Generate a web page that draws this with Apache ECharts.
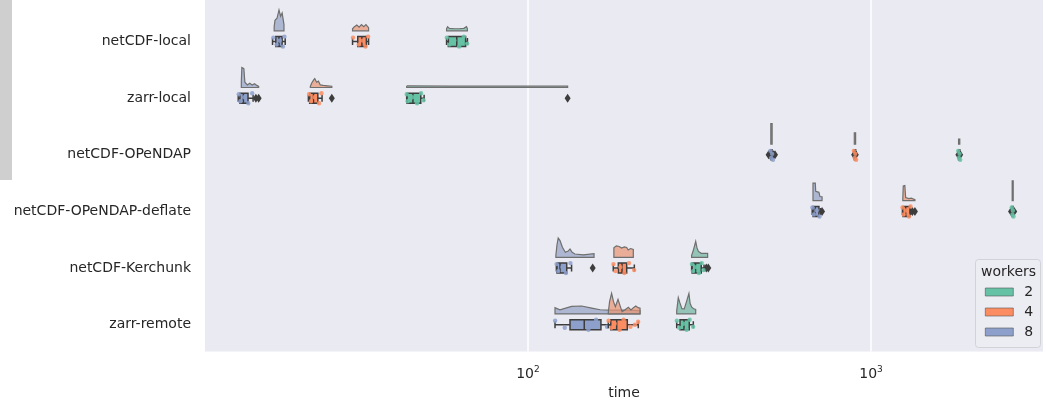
<!DOCTYPE html>
<html>
<head>
<meta charset="utf-8">
<script src="https://cdn.jsdelivr.net/npm/echarts@6/dist/echarts.min.js"></script>
<style>
html, body { margin: 0; padding: 0; background: #fff; }
#chart { width: 1046px; height: 405px; }
</style>
</head>
<body>
<div id="chart"></div>
<script>
// 数据
var categories = ['netCDF-local', 'zarr-local', 'netCDF-OPeNDAP', 'netCDF-OPeNDAP-deflate', 'netCDF-Kerchunk', 'zarr-remote'];
var workers = ['2', '4', '8'];
var xTicks = [100, 1000];

// 箱线: [下须, q1, 中位数, q3, 上须]
var box2 = [[57.9, 58.6, 62, 65.8, 66.6], [44.3, 44.4, 46.2, 48.7, 49.8], [1795, 1800, 1808, 1815, 1822], [2570, 2578, 2588, 2596, 2605], [300, 301, 308, 320, 326], [271.4, 277.5, 285, 295.3, 303.4]];
var box4 = [[30.8, 31.9, 32.8, 33.8, 34.3], [22.9, 23.1, 23.7, 24.4, 25.1], [890, 894, 898, 902, 906], [1235, 1240, 1262, 1299, 1305], [177.3, 183.4, 188, 194, 204.2], [171.5, 174.3, 181.4, 194.8, 209.7]];
var box8 = [[18.0, 18.4, 18.8, 19.2, 19.6], [14.3, 14.46, 14.8, 15.27, 15.8], [510, 511, 513, 514, 516], [674, 678, 688, 705, 712], [121, 121.5, 124, 129.7, 134], [119.9, 132.6, 145.9, 163.2, 185]];

// 异常值
var out2 = [[], [130.5], [1798, 1820], [2560, 2615], [331, 335.5], []];
var out4 = [[], [26.8], [893, 903], [1320, 1343], [], []];
var out8 = [[], [16.1, 16.4], [503, 507, 520, 525], [720], [154.4], []];

// 雨点（散点）
var rain2 = [[58, 59, 61, 63, 65, 66.5], [44.3, 44.6, 46, 47.5, 48.8, 49.6], [1796, 1805, 1812, 1820], [2572, 2585, 2592, 2603], [300.5, 303, 309, 315, 321, 325], [271.6, 276, 284, 290, 296, 303]];
var rain4 = [[30.9, 32.1, 33, 33.6, 34.2], [23.0, 23.3, 23.9, 24.6, 25.0], [891, 897, 900, 905], [1236, 1245, 1260, 1290, 1304], [177.5, 180, 186, 191, 197, 204], [171.8, 175, 179, 185, 190, 199, 205, 209.5]];
var rain8 = [[18.1, 18.5, 18.9, 19.3, 19.5], [14.35, 14.5, 14.9, 15.3, 15.7], [509, 512, 515, 518], [675, 682, 695, 708], [121.2, 122.5, 126, 129, 133], [120, 128, 140, 150, 158, 170, 180]];

// 云（半小提琴）: [time, 相对密度]
var cloud2 = [
	[[57.9, 0.1], [58.3, 0.2], [59, 0.12], [61, 0.1], [63, 0.1], [65, 0.12], [66.2, 0.2], [66.6, 0.1]],
	[[44.3, 0.06], [44.5, 0.08], [60, 0.06], [100, 0.06], [130.5, 0.06]],
	[[1800, 0.24], [1815, 0.24]],
	[[2580, 0.95], [2598, 0.95]],
	[[300, 0.1], [303, 0.3], [308.3, 0.76], [311, 0.45], [314, 0.28], [320, 0.19], [334, 0.19]],
	[[271.4, 0.15], [274.3, 0.78], [277, 0.55], [281, 0.25], [285.5, 0.24], [290, 0.6], [294.6, 0.98], [297, 0.5], [300.2, 0.32], [304, 0.25], [308.3, 0.22]]
];
var cloud4 = [
	[[30.8, 0.1], [31.2, 0.2], [31.7, 0.28], [32.2, 0.18], [32.7, 0.3], [33.2, 0.2], [33.7, 0.3], [34.3, 0.15]],
	[[23.2, 0.05], [23.4, 0.2], [23.7, 0.35], [23.9, 0.42], [24.2, 0.25], [24.5, 0.3], [24.8, 0.12], [25.3, 0.1], [26, 0.08], [26.8, 0.06]],
	[[894, 0.54], [902, 0.54]],
	[[1238, 0.1], [1242, 0.7], [1255, 0.72], [1262, 0.15], [1290, 0.1], [1310, 0.12], [1343, 0.05]],
	[[178, 0.45], [181, 0.55], [184.5, 0.52], [187.5, 0.44], [191, 0.5], [194, 0.47], [196, 0.35], [199, 0.42], [202.8, 0.38]],
	[[171.5, 0.1], [173, 0.6], [175.3, 0.98], [177.5, 0.6], [179.8, 0.35], [183, 0.7], [185.5, 0.4], [188.1, 0.11], [192, 0.2], [196.1, 0.32], [199.7, 0.19], [203, 0.3], [206.2, 0.38], [209.5, 0.3], [212.2, 0.27]]
];
var cloud8 = [
	[[18.2, 0.2], [18.3, 0.5], [18.55, 0.6], [18.8, 1.0], [19.0, 0.7], [19.2, 0.85], [19.44, 0.3]],
	[[14.6, 0.3], [14.65, 0.95], [14.85, 0.9], [14.95, 0.25], [15.2, 0.12], [15.45, 0.2], [15.7, 0.12], [15.95, 0.18], [16.2, 0.1], [16.4, 0.05]],
	[[510.5, 0.98], [515, 0.98]],
	[[677.5, 0.84], [688, 0.84], [690, 0.45], [705, 0.4], [710, 0.2], [720, 0.19]],
	[[120.6, 0.1], [121.5, 0.6], [122.5, 0.92], [124, 0.8], [126, 0.48], [128.5, 0.24], [131, 0.3], [132.6, 0.4], [134.5, 0.24], [137, 0.16], [145, 0.12], [155.8, 0.18]],
	[[119.9, 0.3], [123.9, 0.2], [134, 0.36], [143.4, 0.38], [153.4, 0.28], [162.3, 0.2], [175, 0.18], [195, 0.18], [212, 0.16]]
];

// 样式
var hueColor = { '2': '#66c2a5', '4': '#fc8d62', '8': '#8da0cb' };
var cloudColor = { '2': 'rgba(113,182,160,0.72)', '4': 'rgba(233,149,117,0.72)', '8': 'rgba(149,163,195,0.72)' };
var EDGE = '#3d3d3d';
var CLOUD_OFF = 0.19;   // 云底距中心（y单位）
var CLOUD_H = 0.37;     // 密度1对应高度
var BOX_HALF = 5;       // px
var CAP_HALF = 3.5;
var JIT = [-4, 3, -1, 5, -5, 2, 0, -3, 4];

function makeRender(key, boxes, outs, clouds, rains) {
	return function(params, api) {
		var c = params.dataIndex;
		var s = boxes[c];
		var kids = [];
		// 云
		var prof = clouds[c];
		var pts = [api.coord([prof[0][0], c - CLOUD_OFF])];
		for (var i = 0; i < prof.length; i++) {
			pts.push(api.coord([prof[i][0], c - CLOUD_OFF - prof[i][1] * CLOUD_H]));
		}
		pts.push(api.coord([prof[prof.length - 1][0], c - CLOUD_OFF]));
		kids.push({
			type: 'polygon',
			shape: { points: pts },
			style: { fill: cloudColor[key], stroke: '#6f6f6f', lineWidth: 1.2 }
		});
		// 箱线
		var p0 = api.coord([s[0], c]), p1 = api.coord([s[1], c]), p2 = api.coord([s[2], c]),
			p3 = api.coord([s[3], c]), p4 = api.coord([s[4], c]);
		var cy = p0[1];
		var ls = { stroke: EDGE, lineWidth: 1.5 };
		kids.push({ type: 'line', shape: { x1: p0[0], y1: cy, x2: p1[0], y2: cy }, style: ls });
		kids.push({ type: 'line', shape: { x1: p3[0], y1: cy, x2: p4[0], y2: cy }, style: ls });
		kids.push({ type: 'line', shape: { x1: p0[0], y1: cy - CAP_HALF, x2: p0[0], y2: cy + CAP_HALF }, style: ls });
		kids.push({ type: 'line', shape: { x1: p4[0], y1: cy - CAP_HALF, x2: p4[0], y2: cy + CAP_HALF }, style: ls });
		kids.push({
			type: 'rect',
			shape: { x: p1[0], y: cy - BOX_HALF, width: Math.max(p3[0] - p1[0], 1), height: BOX_HALF * 2 },
			style: { fill: hueColor[key], stroke: EDGE, lineWidth: 1.5 }
		});
		kids.push({ type: 'line', shape: { x1: p2[0], y1: cy - BOX_HALF, x2: p2[0], y2: cy + BOX_HALF }, style: ls });
		// 异常值（菱形）
		outs[c].forEach(function(v) {
			var q = api.coord([v, c]);
			kids.push({
				type: 'polygon',
				shape: { points: [[q[0], cy - 4.5], [q[0] + 3, cy], [q[0], cy + 4.5], [q[0] - 3, cy]] },
				style: { fill: EDGE }
			});
		});
		// 雨点
		rains[c].forEach(function(v, j) {
			var q = api.coord([v, c]);
			kids.push({
				type: 'circle',
				shape: { cx: q[0], cy: cy + JIT[j % JIT.length], r: 2.2 },
				style: { fill: hueColor[key], opacity: 0.85 }
			});
		});
		return { type: 'group', children: kids };
	};
}

function makeSeries(key, boxes, outs, clouds, rains) {
	return {
		name: key,
		type: 'custom',
		itemStyle: { color: hueColor[key] },
		encode: { x: [0, 1], y: 2 },
		data: categories.map(function(n, i) { return [boxes[i][0], boxes[i][4], i]; }),
		renderItem: makeRender(key, boxes, outs, clouds, rains),
		clip: true
	};
}

var option = {
	animation: false,
	backgroundColor: '#ffffff',
	textStyle: { fontFamily: 'DejaVu Sans' },
	grid: { left: 205, right: 3, top: 0, bottom: 53, show: true, backgroundColor: '#eaeaf2', borderWidth: 0 },
	xAxis: {
		type: 'log',
		logBase: 10,
		min: 11.44,
		max: 3173,
		name: 'time',
		nameLocation: 'middle',
		nameGap: 34,
		nameTextStyle: { color: '#262626', fontSize: 14, fontFamily: 'DejaVu Sans' },
		axisLine: { show: false },
		axisTick: { show: false, customValues: xTicks },
		splitLine: { show: true, lineStyle: { color: '#ffffff', width: 1.5 } },
		axisLabel: {
			customValues: xTicks,
			margin: 14,
			color: '#262626',
			fontSize: 14,
			fontFamily: 'DejaVu Sans',
			formatter: function(v) { return '10{s|' + Math.round(Math.log(v) / Math.LN10) + '}'; },
			rich: { s: { fontSize: 9, color: '#262626', verticalAlign: 'top', padding: [0, 0, 8, 0] } }
		}
	},
	yAxis: {
		type: 'value',
		inverse: true,
		min: -0.735,
		max: 5.475,
		axisLine: { show: false },
		axisTick: { show: false },
		splitLine: { show: false },
		axisLabel: {
			customValues: [0, 1, 2, 3, 4, 5],
			margin: 14,
			color: '#262626',
			fontSize: 14,
			fontFamily: 'DejaVu Sans',
			formatter: function(v) { return categories[Math.round(v)]; }
		}
	},
	legend: {
		data: workers,
		orient: 'vertical',
		left: 985,
		top: 285,
		padding: 0,
		itemWidth: 28,
		itemHeight: 8,
		itemGap: 6,
		icon: 'rect',
		itemStyle: { borderColor: '#555', borderWidth: 0.6 },
		textStyle: { color: '#262626', fontSize: 14, fontFamily: 'DejaVu Sans', padding: [0, 0, 0, 6] }
	},
	graphic: [
		{ type: 'rect', left: 0, top: 0, shape: { width: 12, height: 180 }, style: { fill: '#cfcfcf' } },
		{ type: 'rect', left: 975, top: 259, z: 0, shape: { width: 65, height: 88, r: 3 }, style: { fill: 'rgba(236,236,243,0.9)', stroke: '#d2d2d8', lineWidth: 1 } },
		{ type: 'text', left: 981, top: 265, z: 1, style: { text: 'workers', fill: '#262626', font: '14px "DejaVu Sans"' } }
	],
	series: [
		makeSeries('8', box8, out8, cloud8, rain8),
		makeSeries('4', box4, out4, cloud4, rain4),
		makeSeries('2', box2, out2, cloud2, rain2)
	]
};

var myChart = echarts.init(document.getElementById('chart'));
myChart.setOption(option);
</script>
</body>
</html>
